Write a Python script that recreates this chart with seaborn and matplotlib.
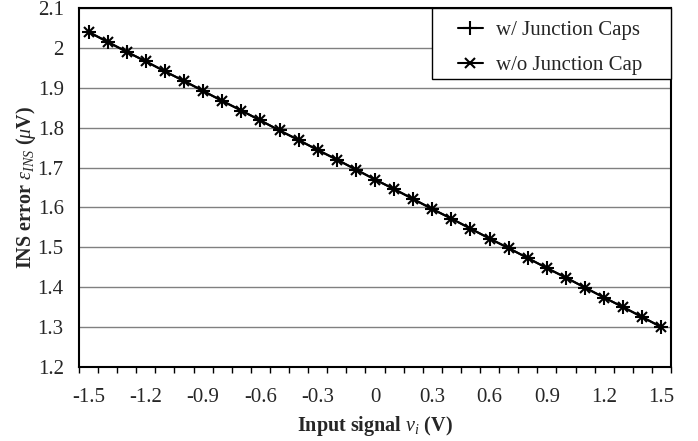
import numpy as np
import pandas as pd
import matplotlib
matplotlib.use("Agg")
import matplotlib.pyplot as plt
import seaborn as sns
from matplotlib.ticker import FixedLocator
from matplotlib.patches import Rectangle

# input signal (V) and INS error (uV)
vin = [-1.5, -1.4, -1.3, -1.2, -1.1, -1.0, -0.9, -0.8, -0.7, -0.6, -0.5,
       -0.4, -0.3, -0.2, -0.1, 0.0, 0.1, 0.2, 0.3, 0.4, 0.5, 0.6, 0.7,
       0.8, 0.9, 1.0, 1.1, 1.2, 1.3, 1.4, 1.5]
err_with = [2.040, 2.015, 1.990, 1.966, 1.941, 1.917, 1.892, 1.867, 1.843,
            1.818, 1.793, 1.769, 1.744, 1.720, 1.695, 1.670, 1.646, 1.621,
            1.596, 1.572, 1.547, 1.522, 1.498, 1.473, 1.448, 1.424, 1.399,
            1.374, 1.350, 1.325, 1.300]
err_without = [2.040, 2.015, 1.990, 1.966, 1.941, 1.917, 1.892, 1.867, 1.843,
               1.818, 1.793, 1.769, 1.744, 1.720, 1.695, 1.670, 1.646, 1.621,
               1.596, 1.572, 1.547, 1.522, 1.498, 1.473, 1.448, 1.424, 1.399,
               1.374, 1.350, 1.325, 1.300]
xticks = [-1.5, -1.2, -0.9, -0.6, -0.3, 0, 0.3, 0.6, 0.9, 1.2, 1.5]
xtick_labels = ["-1.5", "-1.2", "-0.9", "-0.6", "-0.3", "0", "0.3", "0.6", "0.9", "1.2", "1.5"]
yticks = [1.2, 1.3, 1.4, 1.5, 1.6, 1.7, 1.8, 1.9, 2.0, 2.1]
ytick_labels = ["1.2", "1.3", "1.4", "1.5", "1.6", "1.7", "1.8", "1.9", "2", "2.1"]

sns.set_style("white")
plt.rcParams['font.family'] = ['Liberation Serif', 'DejaVu Serif']
plt.rcParams['mathtext.fontset'] = 'custom'
plt.rcParams['mathtext.rm'] = 'Liberation Serif'
plt.rcParams['mathtext.it'] = 'Liberation Serif:italic'
plt.rcParams['mathtext.bf'] = 'Liberation Serif:bold'

df = pd.DataFrame({'vin': vin, 'with': err_with, 'without': err_without})

fig = plt.figure(figsize=(6.98, 4.41), dpi=100)
ax = fig.add_axes([0.1132, 0.1678, 0.8481, 0.8141])

sns.lineplot(data=df, x='vin', y='with', ax=ax, color='black', lw=1.5,
             marker='+', markersize=10, mew=1.5, mec='black', label='w/ Junction Caps')
sns.lineplot(data=df, x='vin', y='without', ax=ax, color='black', lw=1.5,
             marker='x', markersize=7.5, mew=1.5, mec='black', label='w/o Junction Cap')

ax.set_xlim(-1.55, 1.55)
ax.set_ylim(1.2, 2.1)
ax.set_yticks(yticks)
ax.set_yticklabels(ytick_labels)
ax.set_xticks(xticks)
ax.set_xticklabels(xtick_labels)
# category-style tick marks between points
ax.xaxis.set_minor_locator(FixedLocator(np.arange(-1.55, 1.56, 0.1)))
ax.tick_params(axis='x', which='major', length=0, pad=15, labelsize=15)
ax.tick_params(axis='x', which='minor', length=4, width=1, direction='out', color='black', bottom=True)
ax.tick_params(axis='y', length=0, pad=11, labelsize=15)
ax.grid(axis='y', color='#808080', lw=1)
for s in ax.spines.values():
    s.set_color('black')
    s.set_linewidth(1.5)

ax.set_xlabel(r'Input signal $\mathit{v}_{\mathit{i}}$ (V)', fontsize=14.5, fontweight='bold', labelpad=5)
ax.set_ylabel(r'INS error $\varepsilon_{\mathit{INS}}$ ($\mu$V)', fontsize=14.5, fontweight='bold', labelpad=0)

# legend box (Excel style, wide padding)
ax.add_patch(Rectangle((0.596, 0.802), 0.404, 0.198, transform=ax.transAxes,
                       facecolor='white', edgecolor='black', lw=1, zorder=4, clip_on=False))
leg = ax.legend(loc='upper left', bbox_to_anchor=(0.64, 0.965), borderaxespad=0, borderpad=0,
                fontsize=15, frameon=False, handlelength=1.2, handletextpad=0.65,
                labelspacing=0.75)
leg.set_zorder(5)

fig.savefig('out.png', dpi=100)
